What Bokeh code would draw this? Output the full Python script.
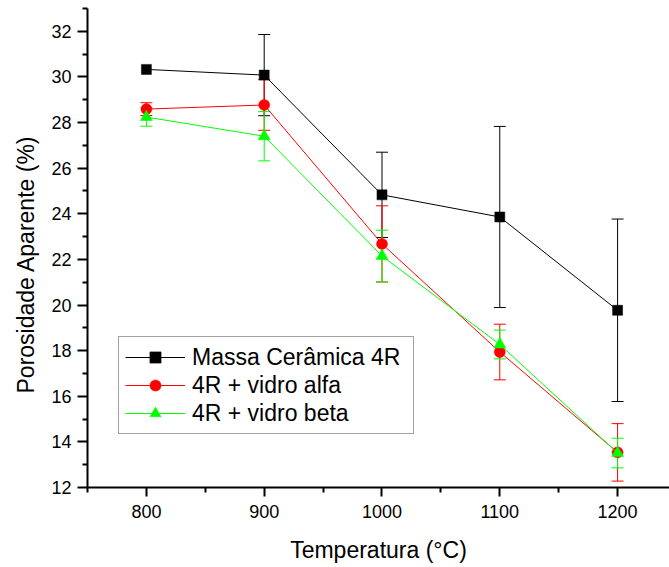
from bokeh.plotting import figure
from bokeh.models import (Range1d, FixedTicker, Whisker, TeeHead, Title,
                          ColumnDataSource, Legend, LegendItem)
from bokeh.embed import file_html
from bokeh.resources import INLINE

# ---- data ----
temps = [800, 900, 1000, 1100, 1200]
massa = [30.33, 30.08, 24.83, 23.86, 19.77]
massa_err = [0.0, 1.78, 1.87, 3.97, 4.0]
alfa = [28.59, 28.77, 22.68, 17.94, 13.54]
alfa_err = [0.28, 1.11, 1.67, 1.22, 1.26]
beta = [28.24, 27.40, 22.15, 18.27, 13.51]
beta_err = [0.40, 1.08, 1.13, 0.63, 0.65]

series_names = ["Massa Cerâmica 4R", "4R + vidro alfa", "4R + vidro beta"]
x_title = "Temperatura (°C)"
y_title = "Porosidade Aparente (%)"
x_ticks = [800, 900, 1000, 1100, 1200]
x_minor = [750, 850, 950, 1050, 1150]
y_ticks = [12, 14, 16, 18, 20, 22, 24, 26, 28, 30, 32]
y_minor = [13, 15, 17, 19, 21, 23, 25, 27, 29, 31, 33]

FONT = "Liberation Sans"

p = figure(width=669, height=567, x_range=Range1d(750, 1244.07), y_range=Range1d(12, 33),
           output_backend="svg", toolbar_location=None,
           min_border_left=86, min_border_right=0, min_border_top=8, min_border_bottom=80)
p.xgrid.visible = False
p.ygrid.visible = False
p.outline_line_color = None
p.background_fill_color = "white"
p.border_fill_color = "white"

p.xaxis.ticker = FixedTicker(ticks=x_ticks, minor_ticks=x_minor)
p.yaxis.ticker = FixedTicker(ticks=y_ticks, minor_ticks=y_minor)
for ax, tout, stand in ((p.xaxis, 9, 8), (p.yaxis, 10, 6)):
    ax.axis_line_width = 2
    ax.axis_line_color = "black"
    ax.major_tick_line_width = 2
    ax.minor_tick_line_width = 2
    ax.major_tick_line_color = "black"
    ax.minor_tick_line_color = "black"
    ax.major_tick_in = 0
    ax.major_tick_out = tout
    ax.minor_tick_in = 0
    ax.minor_tick_out = 5
    ax.major_label_text_font = FONT
    ax.major_label_text_font_size = "18px"
    ax.major_label_text_color = "black"
    ax.major_label_standoff = stand

p.xaxis.axis_label = x_title
p.xaxis.axis_label_standoff = 16
p.xaxis.axis_label_text_font = FONT
p.xaxis.axis_label_text_font_size = "23px"
p.xaxis.axis_label_text_font_style = "normal"
p.xaxis.axis_label_text_color = "black"


def add_series(vals, errs, color, marker, size):
    src = ColumnDataSource(dict(x=temps, y=vals))
    ln = p.line("x", "y", source=src, line_color=color, line_width=1)
    wx = [t for t, e in zip(temps, errs) if e > 0]
    wu = [v + e for v, e in zip(vals, errs) if e > 0]
    wl = [v - e for v, e in zip(vals, errs) if e > 0]
    wsrc = ColumnDataSource(dict(x=wx, upper=wu, lower=wl))
    w = Whisker(source=wsrc, base="x", upper="upper", lower="lower",
                line_color=color, line_width=1,
                upper_head=TeeHead(size=12, line_color=color, line_width=1),
                lower_head=TeeHead(size=12, line_color=color, line_width=1))
    p.add_layout(w)
    sc = p.scatter("x", "y", source=src, marker=marker, size=size,
                   fill_color=color, line_color=color, line_width=0.5)
    return [ln, sc]


r1 = add_series(massa, massa_err, "#000000", "square", 10)
r2 = add_series(alfa, alfa_err, "#FF0000", "circle", 11)
r3 = add_series(beta, beta_err, "#00FF00", "triangle", 12)

legend = Legend(items=[LegendItem(label=series_names[0], renderers=r1),
                       LegendItem(label=series_names[1], renderers=r2),
                       LegendItem(label=series_names[2], renderers=r3)],
                location=(31, 53), glyph_width=60, glyph_height=28, spacing=0,
                padding=6, label_standoff=7, label_width=215, label_text_font=FONT,
                label_text_font_size="23px", label_text_color="black",
                border_line_color="#444444", border_line_width=1,
                background_fill_alpha=1.0, margin=0)
p.add_layout(legend)

# y-axis title as a side-panel title (allows an offset along the axis)
p.add_layout(Title(text=y_title, align="left", offset=94, standoff=20,
                   text_font=FONT, text_font_size="23px", text_font_style="normal",
                   text_color="black"), "left")

open("out.html", "w").write(file_html(p, INLINE))
